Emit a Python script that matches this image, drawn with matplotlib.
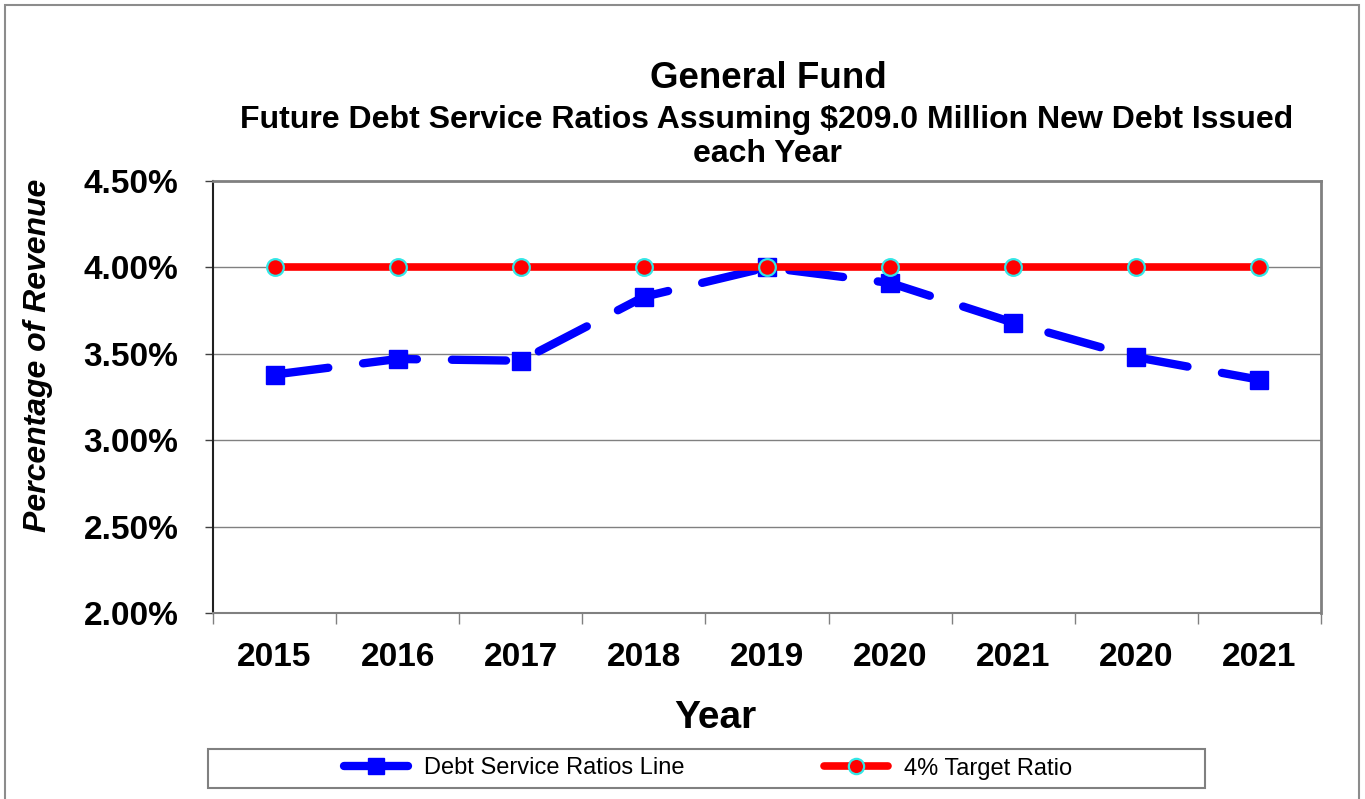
import numpy as np
import matplotlib
matplotlib.use("Agg")
import matplotlib.pyplot as plt
from matplotlib.lines import Line2D
from matplotlib.patches import Rectangle
from matplotlib.ticker import FixedLocator, FuncFormatter

plt.rcParams['font.family'] = ['Liberation Sans', 'DejaVu Sans']

# chart data (percent of revenue)
years = ["2015", "2016", "2017", "2018", "2019", "2020", "2021", "2020", "2021"]
debt_ratio = [3.38, 3.47, 3.46, 3.83, 4.00, 3.91, 3.68, 3.48, 3.35]
target_ratio = [4.00, 4.00, 4.00, 4.00, 4.00, 4.00, 4.00, 4.00, 4.00]
y_ticks = [2.0, 2.5, 3.0, 3.5, 4.0, 4.5]

W, H = 1365, 799
fig = plt.figure(figsize=(W / 100, H / 100), dpi=100)
fig.patch.set_facecolor('white')

# outer frame of the chart object
fig.patches.append(Rectangle((5 / W, -0.02), 1354 / W, 1 - 5 / H + 0.02,
                             transform=fig.transFigure, fill=False,
                             edgecolor='#8c8c8c', linewidth=1.5))

ax = fig.add_axes([213 / W, 1 - 613 / H, 1108 / W, 432 / H])
x = np.arange(len(years))

ax.plot(x, debt_ratio, color='#0000ff', linewidth=6, dashes=(6.5, 4.2),
        dash_capstyle='round', marker='s', markersize=12.5,
        markerfacecolor='#0000ff', markeredgecolor='#0000ff', zorder=3)
ax.plot(x, target_ratio, color='#ff0000', linewidth=5.5, solid_capstyle='butt',
        marker='o', markersize=12, markerfacecolor='#ff0000',
        markeredgecolor='#33e6e6', markeredgewidth=1.6, zorder=4)

ax.set_xlim(-0.5, len(years) - 0.5)
ax.set_ylim(2.0, 4.5)

# horizontal gridlines
for yv in y_ticks[1:-1]:
    ax.axhline(yv, color='#808080', linewidth=1, zorder=1)

ax.yaxis.set_major_locator(FixedLocator(y_ticks))
ax.yaxis.set_major_formatter(FuncFormatter(lambda v, p: f"{v:.2f}%"))
ax.tick_params(axis='y', direction='out', length=6, width=1, pad=19,
               labelsize=24, color='#404040')
for lab in ax.get_yticklabels():
    lab.set_fontweight('bold')

# category boundaries get tick marks, centres get the year labels
ax.xaxis.set_major_locator(FixedLocator(np.arange(len(years) + 1) - 0.5))
ax.xaxis.set_major_formatter(FuncFormatter(lambda v, p: ""))
ax.xaxis.set_minor_locator(FixedLocator(x))
ax.xaxis.set_minor_formatter(FuncFormatter(lambda v, p: years[int(round(v))]))
ax.tick_params(axis='x', which='major', direction='out', length=8, width=1,
               color='#808080')
ax.tick_params(axis='x', which='minor', length=0, pad=21, labelsize=24)
for lab in ax.get_xticklabels(minor=True):
    lab.set_fontweight('bold')

ax.spines['left'].set_color('#202020')
ax.spines['left'].set_linewidth(1.5)
for s in ['top', 'right']:
    ax.spines[s].set_color('#808080')
    ax.spines[s].set_linewidth(2)
ax.spines['bottom'].set_color('#808080')
ax.spines['bottom'].set_linewidth(1.5)

# titles
fig.text(768 / W, 1 - 88 / H, "General Fund", ha='center', va='baseline',
         fontsize=26.5, fontweight='bold')
fig.text(767 / W, 1 - 128 / H,
         "Future Debt Service Ratios Assuming $209.0 Million New Debt Issued",
         ha='center', va='baseline', fontsize=23, fontweight='bold')
fig.text(767 / W, 1 - 162 / H, "each Year", ha='center', va='baseline',
         fontsize=23, fontweight='bold')

fig.text(715 / W, 1 - 728 / H, "Year", ha='center', va='baseline',
         fontsize=28, fontweight='bold')
fig.text(38 / W, 1 - 355 / H, "Percentage of Revenue", ha='center', va='center',
         rotation=90, fontsize=23, fontweight='bold', style='italic')

# legend
fig.patches.append(Rectangle((208 / W, 1 - 788 / H), 997 / W, 39 / H,
                             transform=fig.transFigure, fill=False,
                             edgecolor='#808080', linewidth=1.5))
handles = [
    Line2D([], [], color='#0000ff', linewidth=6, solid_capstyle='round',
           marker='s', markersize=12, markerfacecolor='#0000ff',
           markeredgecolor='#0000ff'),
    Line2D([], [], color='#ff0000', linewidth=5.5, solid_capstyle='round',
           marker='o', markersize=11, markerfacecolor='#ff0000',
           markeredgecolor='#33e6e6', markeredgewidth=1.6),
]
fig.legend(handles, ["Debt Service Ratios Line", "4% Target Ratio"],
           loc='center', bbox_to_anchor=(708 / W, 1 - 768.5 / H), ncol=2,
           frameon=False, fontsize=17, handlelength=2.7, handletextpad=0.7,
           columnspacing=5.9)

fig.savefig("out.png", dpi=100)
